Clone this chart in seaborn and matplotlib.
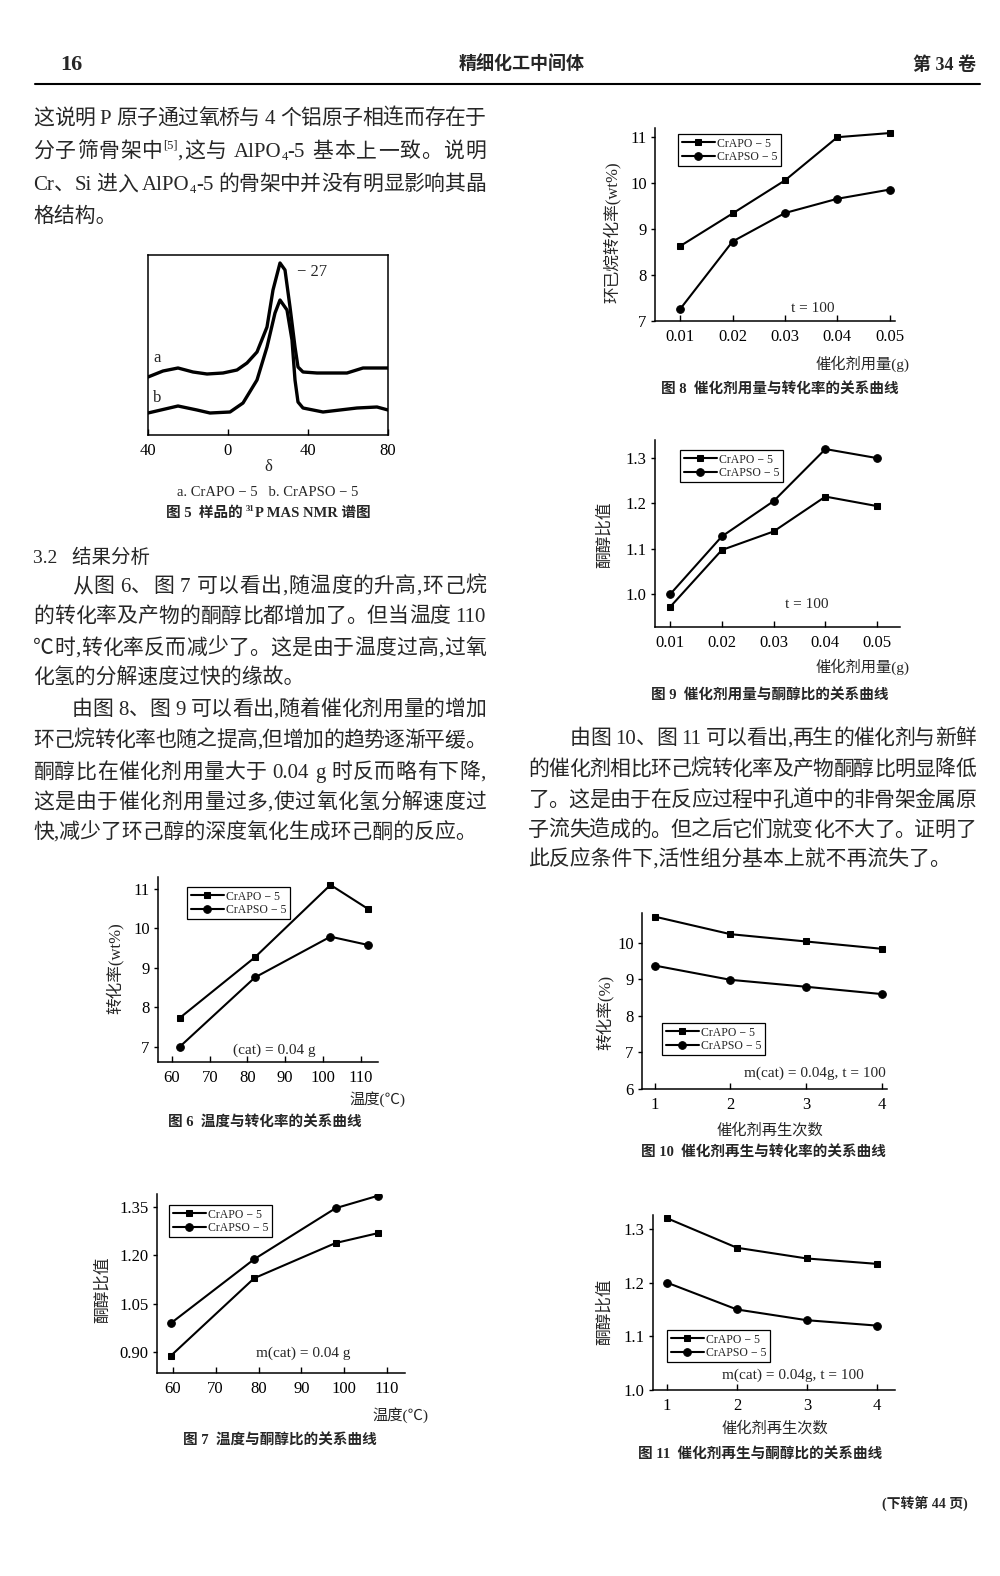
import matplotlib
matplotlib.use("Agg")
from matplotlib import pyplot as plt
from matplotlib.lines import Line2D
import seaborn as sns

W, H, DPI = 1000, 1576, 100

# ---- values ----
# fig 5: 31P MAS NMR traces (delta, intensity in arbitrary units)
nmr_a_delta = [-40, -32.5, -25, -17.5, -10.5, -2.5, 4.5, 9.5, 14.5, 19.5, 22.5, 26, 28.5, 31, 33.5, 35, 37.5, 44.5, 59.5, 67.5, 80]
nmr_a_int = [58, 64, 67, 63, 61, 62, 65, 72, 83, 108, 145, 172, 165, 128, 88, 68, 63, 62, 62, 67, 67]
nmr_b_delta = [-40, -25, -15.5, -9, 1, 7.5, 14.5, 19.5, 23.5, 26, 29.5, 32, 33.5, 35, 37.5, 47.5, 64.5, 74.5, 80]
nmr_b_int = [22, 29, 25, 22, 23, 32, 55, 88, 122, 135, 125, 95, 55, 33, 27, 23, 27, 28, 25]
nmr_ticks = [-40, 0, 40, 80]
nmr_tick_labels = ["40", "0", "40", "80"]

# fig 6: temperature vs conversion
temp6 = [62, 82, 102, 112]
conv6_apo = [7.73, 9.27, 11.1, 10.49]
conv6_apso = [7.0, 8.76, 9.79, 9.58]

# fig 7: temperature vs ketone/alcohol ratio
temp7 = [59.5, 79, 98, 108]
ratio7_apo = [0.888, 1.129, 1.238, 1.269]
ratio7_apso = [0.989, 1.188, 1.346, 1.385]

temp_ticks = [60, 70, 80, 90, 100, 110]

# fig 8: catalyst dose vs conversion
dose = [0.01, 0.02, 0.03, 0.04, 0.05]
dose_labels = ["0.01", "0.02", "0.03", "0.04", "0.05"]
conv8_apo = [8.63, 9.34, 10.06, 11.0, 11.09]
conv8_apso = [7.26, 8.73, 9.35, 9.66, 9.86]

# fig 9: catalyst dose vs ratio
ratio9_apo = [0.971, 1.097, 1.138, 1.215, 1.194]
ratio9_apso = [0.999, 1.127, 1.205, 1.32, 1.30]

# fig 10 / 11: regeneration cycles
regen = [1, 2, 3, 4]
conv10_apo = [10.72, 10.24, 10.04, 9.84]
conv10_apso = [9.38, 8.99, 8.80, 8.60]
ratio11_apo = [1.32, 1.265, 1.245, 1.235]
ratio11_apso = [1.20, 1.15, 1.13, 1.12]

sns.set_style("ticks")
plt.rcParams["font.family"] = ["Liberation Serif", "Noto Sans CJK SC", "DejaVu Sans"]
plt.rcParams["axes.edgecolor"] = "black"
plt.rcParams["axes.linewidth"] = 1.1
plt.rcParams["xtick.color"] = "black"
plt.rcParams["ytick.color"] = "black"

fig = plt.figure(figsize=(W / DPI, H / DPI), dpi=DPI)
renderer = fig.canvas.get_renderer()


def px_ax(left, top, right, bottom):
    return fig.add_axes([left / W, 1 - bottom / H, (right - left) / W, (bottom - top) / H])


def ptext(x, y, s, size=11, ha="center", va="center", **kw):
    return fig.text(x / W, 1 - y / H, s, fontsize=size, ha=ha, va=va, **kw)


def tokens(s):
    out, buf = [], ""
    for ch in s:
        if ch.isascii() and ch != " ":
            buf += ch
        else:
            if buf:
                out.append(buf)
                buf = ""
            out.append(ch)
    if buf:
        out.append(buf)
    return out


def rich(x, y, segs, size=15, width=None, align="left", weight="normal"):
    # y is the baseline in pixels; width -> justify line to that width
    items = []
    for s, kind in segs:
        if width is None:
            items.append((s, kind))
        else:
            items.extend((t, kind) for t in tokens(s))
    objs = []
    for tok, kind in items:
        if width is not None and tok == " ":
            objs.append((None, size * 0.25 * DPI / 72, kind))
            continue
        fs = size * (0.6 if kind != "n" else 1.0)
        t = fig.text(0, 0, tok, fontsize=fs, va="baseline", ha="left", weight=weight)
        objs.append((t, t.get_window_extent(renderer).width, kind))
    natural = sum(o[1] for o in objs)
    gap = 0
    if width is not None:
        nb = sum(1 for a, b in zip(objs[:-1], objs[1:]) if a[2] == "n" and b[2] == "n")
        gap = (width - natural) / max(nb, 1)
    if align == "center":
        cx = x - natural / 2
    elif align == "right":
        cx = x - natural
    else:
        cx = x
    em = size * DPI / 72
    prev = None
    for t, w, kind in objs:
        if prev == "n" and kind == "n":
            cx += gap
        if t is not None:
            dy = {"n": 0, "sup": -0.4 * em, "sub": 0.15 * em}[kind]
            t.set_position((cx / W, 1 - (y + dy) / H))
        cx += w
        prev = kind


def curve_chart(box, xs, apo, apso, xlim, ylim, xticks, xlabels, yticks, ylabels, legend_xy):
    ax = px_ax(*box)
    sns.lineplot(x=xs, y=apo, ax=ax, color="black", linewidth=1.5, marker="s",
                 markersize=5, markeredgecolor="black", label="CrAPO − 5")
    sns.lineplot(x=xs, y=apso, ax=ax, color="black", linewidth=1.5, marker="o",
                 markersize=5.5, markeredgecolor="black", label="CrAPSO − 5")
    ax.set(xlim=xlim, ylim=ylim, xlabel="", ylabel="")
    ax.set_xticks(xticks, xlabels)
    ax.set_yticks(yticks, ylabels)
    ax.tick_params(axis="x", direction="in", length=4, width=1, labelsize=12, pad=6)
    ax.tick_params(axis="y", direction="out", length=3, width=1, labelsize=12, pad=3)
    sns.despine(ax=ax)
    lx, ly = legend_xy
    leg = ax.legend(loc="upper left", bbox_to_anchor=(lx / W, 1 - ly / H), bbox_transform=fig.transFigure,
                    frameon=True, fancybox=False, edgecolor="black", framealpha=1, fontsize=8.5,
                    borderpad=0.3, labelspacing=0.1, handlelength=2.8, handletextpad=0.2, borderaxespad=0)
    leg.get_frame().set_linewidth(0.9)
    return ax


# ---- page header ----
ptext(60, 65, "16", size=16, ha="left", weight="bold")
ptext(522, 65, "精细化工中间体", size=13, weight="bold")
ptext(976, 65, "第 34 卷", size=13, ha="right", weight="bold")
fig.add_artist(Line2D([35 / W, 980 / W], [1 - 84 / H, 1 - 84 / H], color="black", lw=1.5))

# ---- body text ----
LW = 453
rich(33, 124, [("这说明 P 原子通过氧桥与 4 个铝原子相连而存在于", "n")], width=LW)
rich(33, 157, [("分子筛骨架中", "n"), ("[5]", "sup"), (",这与 AlPO", "n"), ("4", "sub"),
               ("-5 基本上一致。说明", "n")], width=LW)
rich(33, 190, [("Cr、Si 进入 AlPO", "n"), ("4", "sub"), ("-5 的骨架中并没有明显影响其晶", "n")], width=LW)
rich(33, 222, [("格结构。", "n")])

ptext(33, 558, "3.2   结果分析", size=14, ha="left")
left_par = [
    (72, 585, "从图 6、图 7 可以看出,随温度的升高,环己烷", True),
    (33, 615, "的转化率及产物的酮醇比都增加了。但当温度 110", True),
    (33, 647, "℃时,转化率反而减少了。这是由于温度过高,过氧", True),
    (33, 677, "化氢的分解速度过快的缘故。", False),
    (72, 708, "由图 8、图 9 可以看出,随着催化剂用量的增加", True),
    (33, 739, "环己烷转化率也随之提高,但增加的趋势逐渐平缓。", True),
    (33, 771, "酮醇比在催化剂用量大于 0.04 g 时反而略有下降,", True),
    (33, 801, "这是由于催化剂用量过多,使过氧化氢分解速度过", True),
    (33, 832, "快,减少了环己醇的深度氧化生成环己酮的反应。", False),
]
for x, y, s, just in left_par:
    rich(x, y + 7, [(s, "n")], width=(486 - x) if just else None)

right_par = [
    (570, 737, "由图 10、图 11 可以看出,再生的催化剂与新鲜", True),
    (528, 768, "的催化剂相比环己烷转化率及产物酮醇比明显降低", True),
    (528, 799, "了。这是由于在反应过程中孔道中的非骨架金属原", True),
    (528, 829, "子流失造成的。但之后它们就变化不大了。证明了", True),
    (528, 859, "此反应条件下,活性组分基本上就不再流失了。", False),
]
for x, y, s, just in right_par:
    rich(x, y + 7, [(s, "n")], width=(976 - x) if just else None)

# ---- fig 5 ----
ax5 = px_ax(148, 255, 388, 435)
sns.lineplot(x=nmr_a_delta, y=nmr_a_int, ax=ax5, color="black", linewidth=2.4, sort=False, estimator=None)
sns.lineplot(x=nmr_b_delta, y=nmr_b_int, ax=ax5, color="black", linewidth=2.4, sort=False, estimator=None)
ax5.set(xlim=(-40, 80), ylim=(0, 180), xlabel="", ylabel="")
ax5.set_xticks(nmr_ticks, nmr_tick_labels)
ax5.set_yticks([])
ax5.tick_params(axis="x", direction="in", length=4, width=1, labelsize=12, pad=6)
for sp in ax5.spines.values():
    sp.set_linewidth(1.1)
ptext(157, 358, "a", size=12)
ptext(157, 398, "b", size=12)
ptext(312, 272, "− 27", size=12)
ptext(268, 467, "δ", size=12)
ptext(268, 492, "a. CrAPO − 5   b. CrAPSO − 5", size=10.5)
rich(268, 517, [("图 5  样品的 ", "n"), ("31", "sup"), ("P MAS NMR 谱图", "n")], size=10.5, align="center", weight="bold")

# ---- fig 8 ----
curve_chart((655, 128, 895, 321), dose, conv8_apo, conv8_apso, (0.0052, 0.051), (7, 11.2),
            dose, dose_labels, [7, 8, 9, 10, 11], ["7", "8", "9", "10", "11"], (678, 134))
ptext(813, 308, "t = 100", size=11)
ptext(910, 364, "催化剂用量(g)", size=11, ha="right")
ptext(780, 390, "图 8  催化剂用量与转化率的关系曲线", size=10.5, weight="bold")
ptext(612, 232, "环已烷转化率(wt%)", size=12, rotation=90)

# ---- fig 9 ----
curve_chart((655, 440, 900, 627), dose, ratio9_apo, ratio9_apso, (0.0071, 0.0544), (0.927, 1.34),
            dose, dose_labels, [1.0, 1.1, 1.2, 1.3], ["1.0", "1.1", "1.2", "1.3"], (680, 450))
ptext(807, 605, "t = 100", size=11)
ptext(910, 667, "催化剂用量(g)", size=11, ha="right")
ptext(770, 696, "图 9  催化剂用量与酮醇比的关系曲线", size=10.5, weight="bold")
ptext(605, 535, "酮醇比值", size=12, rotation=90)

# ---- fig 6 ----
curve_chart((158, 877, 378, 1062), temp6, conv6_apo, conv6_apso, (56.3, 114.6), (6.62, 11.3),
            temp_ticks, [str(t) for t in temp_ticks], [7, 8, 9, 10, 11], ["7", "8", "9", "10", "11"], (187, 887))
ptext(274, 1050, "(cat) = 0.04 g", size=11)
ptext(405, 1099, "温度(℃)", size=11, ha="right")
ptext(265, 1123, "图 6  温度与转化率的关系曲线", size=10.5, weight="bold")
ptext(115, 968, "转化率(wt%)", size=12, rotation=90)

# ---- fig 7 ----
curve_chart((157, 1194, 405, 1373), temp7, ratio7_apo, ratio7_apso, (56.3, 114.2), (0.835, 1.39),
            temp_ticks, [str(t) for t in temp_ticks], [0.90, 1.05, 1.20, 1.35],
            ["0.90", "1.05", "1.20", "1.35"], (169, 1205))
ptext(303, 1353, "m(cat) = 0.04 g", size=11)
ptext(428, 1415, "温度(℃)", size=11, ha="right")
ptext(280, 1441, "图 7  温度与酮醇比的关系曲线", size=10.5, weight="bold")
ptext(103, 1290, "酮醇比值", size=12, rotation=90)

# ---- fig 10 ----
curve_chart((642, 913, 887, 1089), regen, conv10_apo, conv10_apso, (0.83, 4.07), (6.0, 10.82),
            regen, [str(r) for r in regen], [6, 7, 8, 9, 10], ["6", "7", "8", "9", "10"], (662, 1023))
ptext(815, 1073, "m(cat) = 0.04g, t = 100", size=11)
ptext(770, 1130, "催化剂再生次数", size=11)
ptext(763, 1153, "图 10  催化剂再生与转化率的关系曲线", size=10.5, weight="bold")
ptext(605, 1012, "转化率(%)", size=12, rotation=90)

# ---- fig 11 ----
curve_chart((653, 1215, 895, 1390), regen, ratio11_apo, ratio11_apso, (0.8, 4.26), (1.0, 1.326),
            regen, [str(r) for r in regen], [1.0, 1.1, 1.2, 1.3], ["1.0", "1.1", "1.2", "1.3"], (667, 1330))
ptext(793, 1375, "m(cat) = 0.04g, t = 100", size=11)
ptext(775, 1428, "催化剂再生次数", size=11)
ptext(760, 1455, "图 11  催化剂再生与酮醇比的关系曲线", size=10.5, weight="bold")
ptext(605, 1312, "酮醇比值", size=12, rotation=90)

# ---- footer ----
ptext(968, 1503, "(下转第 44 页)", size=10, ha="right", weight="bold")

fig.savefig("out.png", dpi=DPI)
